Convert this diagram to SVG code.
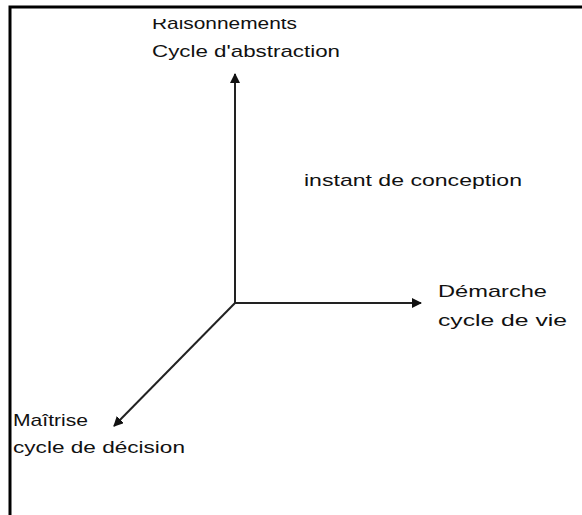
<svg xmlns="http://www.w3.org/2000/svg" width="582" height="515" viewBox="0 0 582 515">
<style>
text{font-family:"Liberation Sans",Arial,sans-serif;font-size:17px;fill:#111}
.ax{stroke:#222;stroke-width:2;fill:none}
</style>
<defs>
<marker id="ah" viewBox="0 0 10 10" refX="9" refY="5" markerWidth="5" markerHeight="5" markerUnits="strokeWidth" orient="auto">
<path d="M0,0 L10,5 L0,10 z" fill="#111"/>
</marker>
<clipPath id="topclip"><rect x="0" y="19" width="582" height="496"/></clipPath>
</defs>
<rect width="582" height="515" fill="#fff"/>
<path d="M10,515 V7 H582" stroke="#000" stroke-width="3" fill="none"/>
<g id="connectors">
<line class="ax" x1="235" y1="303" x2="235" y2="74" marker-end="url(#ah)"/>
<line class="ax" x1="235" y1="303" x2="421" y2="303" marker-end="url(#ah)"/>
<line class="ax" x1="235" y1="303" x2="114" y2="426" marker-end="url(#ah)"/>
</g>
<g id="raisonnements">
<text x="152" y="29" textLength="145" lengthAdjust="spacingAndGlyphs" clip-path="url(#topclip)">Raisonnements</text>
<text x="152" y="57" textLength="188" lengthAdjust="spacingAndGlyphs">Cycle d'abstraction</text>
</g>
<g id="instant">
<text x="304" y="186" textLength="218" lengthAdjust="spacingAndGlyphs">instant de conception</text>
</g>
<g id="demarche">
<text x="438" y="297" textLength="109" lengthAdjust="spacingAndGlyphs">Démarche</text>
<text x="438" y="326" textLength="129" lengthAdjust="spacingAndGlyphs">cycle de vie</text>
</g>
<g id="maitrise">
<text x="13" y="426" textLength="75" lengthAdjust="spacingAndGlyphs">Maîtrise</text>
<text x="13" y="453" textLength="172" lengthAdjust="spacingAndGlyphs">cycle de décision</text>
</g>
</svg>
